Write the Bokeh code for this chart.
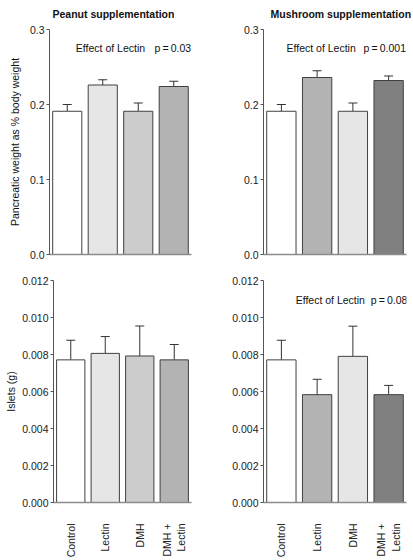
import math
from bokeh.plotting import figure
from bokeh.models import (FactorRange, Range1d, FixedTicker, Whisker, TeeHead,
                          Label, Title, ColumnDataSource)
from bokeh.layouts import column, row
from bokeh.embed import file_html
from bokeh.resources import INLINE

# ---------------- data ----------------
categories = ["Control", "Lectin", "DMH", "DMH +\nLectin"]

panel_titles = ["Peanut supplementation", "Mushroom supplementation"]
y_label_top = "Pancreatic weight as % body weight"
y_label_bottom = "Islets (g)"

pancreas_ticks = [0.0, 0.1, 0.2, 0.3]
pancreas_tick_labels = ["0.0", "0.1", "0.2", "0.3"]
islet_ticks = [0.0, 0.002, 0.004, 0.006, 0.008, 0.010, 0.012]
islet_tick_labels = ["0.000", "0.002", "0.004", "0.006", "0.008", "0.010", "0.012"]

peanut_pancreas_mean = [0.191, 0.226, 0.191, 0.224]
peanut_pancreas_sem = [0.009, 0.007, 0.011, 0.007]
mushroom_pancreas_mean = [0.191, 0.236, 0.191, 0.232]
mushroom_pancreas_sem = [0.009, 0.009, 0.011, 0.006]

peanut_islets_mean = [0.00771, 0.00806, 0.00792, 0.00771]
peanut_islets_sem = [0.00106, 0.00091, 0.00162, 0.00083]
mushroom_islets_mean = [0.00771, 0.00583, 0.00790, 0.00583]
mushroom_islets_sem = [0.00106, 0.00083, 0.00163, 0.00050]

peanut_colors = ["#ffffff", "#e6e6e6", "#cccccc", "#b3b3b3"]
mushroom_colors = ["#ffffff", "#b3b3b3", "#e6e6e6", "#808080"]

effect_text = "Effect of Lectin"
p_top_peanut = "p\u2009=\u20090.03"
p_top_mushroom = "p\u2009=\u20090.001"
p_bottom_mushroom = "p\u2009=\u20090.08"

FONT = "Liberation Sans"
FS = "10.5px"


def make_panel(width, height, bl, br, bt, bb, y_end, ticks, tick_labels,
               means, sems, colors, show_x_labels):
    p = figure(width=width, height=height,
               x_range=FactorRange(*categories, range_padding=0),
               y_range=Range1d(0, y_end),
               output_backend="svg", toolbar_location=None,
               min_border_left=bl, min_border_right=br,
               min_border_top=bt, min_border_bottom=bb)
    p.outline_line_color = None
    p.grid.visible = False
    p.background_fill_color = "white"
    p.border_fill_color = "white"

    src = ColumnDataSource(dict(
        x=categories, top=means,
        upper=[m + s for m, s in zip(means, sems)],
        color=colors))
    p.vbar(x="x", top="top", width=0.82, source=src,
           fill_color="color", line_color="#404040", line_width=1)
    w = Whisker(source=src, base="x", lower="top", upper="upper",
                line_color="#333333", line_width=1,
                upper_head=TeeHead(size=9, line_color="#333333", line_width=1),
                lower_head=None)
    p.add_layout(w)

    ya = p.yaxis[0]
    ya.ticker = FixedTicker(ticks=ticks)
    ya.major_label_overrides = {t: l for t, l in zip(ticks, tick_labels)}
    ya.minor_tick_line_color = None
    ya.major_tick_in = 0
    ya.major_tick_out = 3
    ya.major_label_standoff = 2
    ya.axis_line_color = "#555555"
    ya.major_tick_line_color = "#555555"
    ya.major_label_text_font = FONT
    ya.major_label_text_font_size = FS
    ya.major_label_text_color = "#222222"

    xa = p.xaxis[0]
    xa.axis_line_color = "#8c8c8c"
    xa.axis_line_width = 1.5
    xa.major_tick_line_color = None
    xa.minor_tick_line_color = None
    if show_x_labels:
        xa.major_label_orientation = math.pi / 2
        xa.major_label_standoff = 15
        xa.major_label_text_font = FONT
        xa.major_label_text_font_size = FS
        xa.major_label_text_color = "#222222"
    else:
        xa.major_label_text_color = None
        xa.major_label_standoff = 0
    return p


def add_label(p, x, y, text):
    p.add_layout(Label(x=x, y=y, text=text, text_font=FONT,
                       text_font_size=FS, text_color="#111111",
                       text_align="left", text_baseline="middle"))


def set_title(p, text, offset):
    p.title.text = text
    p.title.text_font = FONT
    p.title.text_font_size = FS
    p.title.text_font_style = "bold"
    p.title.text_color = "#111111"
    p.title.align = "left"
    p.title.vertical_align = "top"
    p.title.offset = offset
    p.title.standoff = 15


def add_ylabel(p, text, standoff, offset):
    p.add_layout(Title(text=text, text_font=FONT, text_font_size=FS,
                       text_font_style="normal", text_color="#111111",
                       align="center", standoff=standoff, offset=offset), "left")


p1 = make_panel(210, 267, 49, 19, 28, 13, 0.3, pancreas_ticks, pancreas_tick_labels,
                peanut_pancreas_mean, peanut_pancreas_sem, peanut_colors, False)
p2 = make_panel(203, 267, 53, 7, 28, 13, 0.3, pancreas_ticks, pancreas_tick_labels,
                mushroom_pancreas_mean, mushroom_pancreas_sem, mushroom_colors, False)
p3 = make_panel(210, 293, 49, 19, 13, 52, 0.012, islet_ticks, islet_tick_labels,
                peanut_islets_mean, peanut_islets_sem, peanut_colors, True)
p4 = make_panel(203, 293, 53, 7, 13, 52, 0.012, islet_ticks, islet_tick_labels,
                mushroom_islets_mean, mushroom_islets_sem, mushroom_colors, True)

# titles
set_title(p1, panel_titles[0], 3)
set_title(p2, panel_titles[1], 7)
# y-axis labels
add_ylabel(p1, y_label_top, 12, -5)
add_ylabel(p3, y_label_bottom, 5, 11)
# effect annotations
add_label(p1, 0.741, 0.276, effect_text)
add_label(p1, 2.958, 0.276, p_top_peanut)
add_label(p2, 0.643, 0.276, effect_text)
add_label(p2, 2.80, 0.276, p_top_mushroom)
add_label(p4, 0.90, 0.01097, effect_text)
add_label(p4, 3.0, 0.01097, p_bottom_mushroom)

layout = column(row(p1, p2, spacing=0), row(p3, p4, spacing=0), spacing=0)

open("out.html", "w").write(file_html(layout, INLINE))
